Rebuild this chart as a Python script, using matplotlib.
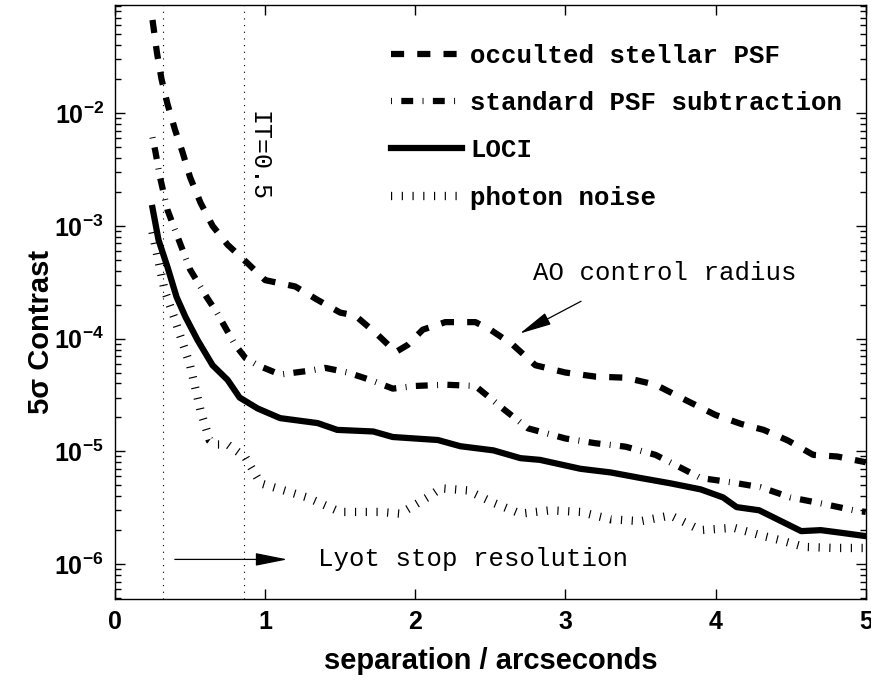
import numpy as np
import matplotlib
matplotlib.use("Agg")
import matplotlib.pyplot as plt
from matplotlib.ticker import FixedLocator, LogLocator, NullLocator

# values (separation in arcsec, 5 sigma contrast)
occ_x = [0.25, 0.28, 0.31, 0.35, 0.40, 0.45, 0.50, 0.57, 0.65, 0.75, 0.88, 1.0,
         1.2, 1.35, 1.5, 1.6, 1.75, 1.87, 1.95, 2.05, 2.2, 2.4, 2.5, 2.65, 2.8,
         3.0, 3.2, 3.4, 3.6, 3.8, 4.0, 4.17, 4.32, 4.48, 4.65, 4.81, 5.0]
occ_y = [6.7e-2, 3.4e-2, 2.0e-2, 1.2e-2, 7.1e-3, 4.5e-3, 2.7e-3, 1.6e-3, 1.0e-3,
         6.8e-4, 4.7e-4, 3.3e-4, 2.9e-4, 2.2e-4, 1.7e-4, 1.6e-4, 1.08e-4, 7.6e-5,
         8.8e-5, 1.2e-4, 1.4e-4, 1.4e-4, 1.2e-4, 8.8e-5, 5.8e-5, 5.0e-5, 4.6e-5,
         4.5e-5, 3.9e-5, 2.85e-5, 2.1e-5, 1.75e-5, 1.55e-5, 1.25e-5, 9.3e-6,
         9.0e-6, 8.0e-6]

std_x = [0.25, 0.27, 0.30, 0.35, 0.43, 0.50, 0.61, 0.68, 0.80, 0.87, 0.95, 1.1,
         1.3, 1.4, 1.55, 1.7, 1.85, 2.0, 2.2, 2.4, 2.6, 2.75, 3.0, 3.2, 3.4, 3.6,
         3.8, 3.9, 4.11, 4.3, 4.5, 4.68, 4.92, 5.0]
std_y = [6.1e-3, 4.5e-3, 2.7e-3, 1.38e-3, 7.2e-4, 4.1e-4, 2.34e-4, 1.69e-4,
         8.8e-5, 6.7e-5, 5.8e-5, 4.8e-5, 5.2e-5, 5.5e-5, 5.0e-5, 4.3e-5, 3.6e-5,
         3.8e-5, 3.9e-5, 3.8e-5, 2.3e-5, 1.6e-5, 1.3e-5, 1.18e-5, 1.1e-5, 9.3e-6,
         6.8e-6, 5.8e-6, 5.3e-6, 4.8e-6, 3.9e-6, 3.5e-6, 3.0e-6, 2.9e-6]

loci_x = [0.25, 0.29, 0.35, 0.41, 0.47, 0.55, 0.65, 0.75, 0.83, 0.95, 1.1, 1.35,
          1.48, 1.72, 1.85, 2.15, 2.3, 2.52, 2.7, 2.83, 3.1, 3.3, 3.5, 3.7, 3.9,
          4.05, 4.14, 4.29, 4.41, 4.57, 4.7, 4.83, 5.0]
loci_y = [1.44e-3, 7.5e-4, 4.3e-4, 2.34e-4, 1.55e-4, 9.7e-5, 5.8e-5, 4.3e-5,
          3.0e-5, 2.4e-5, 1.97e-5, 1.78e-5, 1.55e-5, 1.5e-5, 1.34e-5, 1.26e-5,
          1.11e-5, 1.02e-5, 8.7e-6, 8.4e-6, 7.0e-6, 6.5e-6, 5.8e-6, 5.2e-6,
          4.6e-6, 3.9e-6, 3.2e-6, 3.0e-6, 2.5e-6, 1.96e-6, 2.0e-6, 1.9e-6, 1.77e-6]

phot_x = [0.25, 0.33, 0.40, 0.50, 0.57, 0.63, 0.67, 0.75, 0.867, 0.97, 1.08,
          1.28, 1.5, 1.77, 1.9, 2.08, 2.17, 2.35, 2.52, 2.7, 2.9, 3.1, 3.3, 3.5,
          3.7, 3.9, 4.12, 4.3, 4.43, 4.59, 4.79, 5.0]
phot_y = [8.8e-4, 2.7e-4, 1.46e-4, 5.8e-5, 2.3e-5, 1.26e-5, 1.15e-5, 1.15e-5,
          8.9e-6, 5.2e-6, 4.7e-6, 3.9e-6, 2.9e-6, 2.9e-6, 2.8e-6, 3.9e-6, 4.7e-6,
          4.5e-6, 3.5e-6, 2.8e-6, 3.0e-6, 2.9e-6, 2.5e-6, 2.4e-6, 2.7e-6, 2.0e-6,
          2.1e-6, 1.8e-6, 1.63e-6, 1.42e-6, 1.39e-6, 1.39e-6]

labels = ["occulted stellar PSF", "standard PSF subtraction", "LOCI", "photon noise"]
vlines_x = [0.32, 0.86]
yticks = [1e-6, 1e-5, 1e-4, 1e-3, 1e-2]

plt.rcParams['mathtext.fontset'] = 'custom'
plt.rcParams['mathtext.bf'] = 'Liberation Sans:bold'
plt.rcParams['mathtext.rm'] = 'Liberation Sans:bold'

fig = plt.figure(figsize=(8.71, 6.81), dpi=100)
ax = fig.add_axes([0.132, 0.1204, 0.862, 0.8723])

lw = 4.5
l1, = ax.plot(occ_x, occ_y, color='k', lw=lw, linestyle=(0, (2.1, 2.1)))
l2, = ax.plot(std_x, std_y, color='k', lw=lw, linestyle=(0, (0.15, 1.5, 1.9, 1.5)))
l3, = ax.plot(loci_x, loci_y, color='k', lw=lw)
l4, = ax.plot(phot_x, phot_y, color='k', lw=6, linestyle=(0, (0.14, 1.15)))

for vx in vlines_x:
    ax.axvline(vx, color='k', lw=0.8, linestyle=(0, (1, 5)))

ax.set_yscale('log')
ax.set_xlim(0, 5)
ax.set_ylim(4.9e-7, 0.091)

ax.yaxis.set_major_locator(FixedLocator(yticks))
ax.yaxis.set_minor_locator(LogLocator(base=10, subs=np.arange(2, 10)))
ax.set_yticklabels([r'$\mathbf{10^{%d}}$' % int(np.log10(t)) for t in yticks])
ax.xaxis.set_minor_locator(NullLocator())
ax.set_xticks([0, 1, 2, 3, 4, 5])
ax.set_xticklabels(['0', '1', '2', '3', '4', '5'])

ax.tick_params(which='both', direction='in', top=True, right=True, width=1)
ax.tick_params(which='major', length=7, labelsize=18, pad=8)
ax.tick_params(which='minor', length=4)
for lab in ax.get_xticklabels():
    lab.set_fontfamily('Liberation Sans')
    lab.set_fontweight('bold')
for sp in ax.spines.values():
    sp.set_linewidth(1)

ax.set_xlabel('separation / arcseconds', fontsize=21, fontweight='bold',
              family='Liberation Sans', labelpad=9)
ax.set_ylabel('5σ Contrast', fontsize=21, fontweight='bold',
              family='Liberation Sans')
ax.yaxis.set_label_coords(-0.08, 0.45)

leg = ax.legend([l1, l2, l3, l4], labels, loc='upper left',
                bbox_to_anchor=(0.367, 0.934), frameon=False, borderpad=0,
                borderaxespad=0, handlelength=2.8, handletextpad=0.3,
                labelspacing=0.9,
                prop={'family': 'Liberation Mono', 'weight': 'bold', 'size': 18.5})

mono = {'family': 'Liberation Mono', 'size': 18.5}
ax.text(2.787, 3.82e-4, 'AO control radius', ha='left', va='center', fontdict=mono)
ax.annotate('', xy=(2.68, 1.08e-4), xytext=(3.12, 2.2e-4),
            arrowprops=dict(arrowstyle='-|>,head_length=1.0,head_width=0.2',
                            color='k', lw=0.9, mutation_scale=20))
ax.text(1.353, 1.1e-6, 'Lyot stop resolution', ha='left', va='center', fontdict=mono)
ax.annotate('', xy=(1.167, 1.1e-6), xytext=(0.38, 1.1e-6),
            arrowprops=dict(arrowstyle='-|>,head_length=1.0,head_width=0.2',
                            color='k', lw=0.9, mutation_scale=20))
ax.text(0.953, 1.05e-2, 'IT=0.5', rotation=-90, ha='center', va='top',
        family='Liberation Mono', size=18)

fig.savefig('out.png', dpi=100)
